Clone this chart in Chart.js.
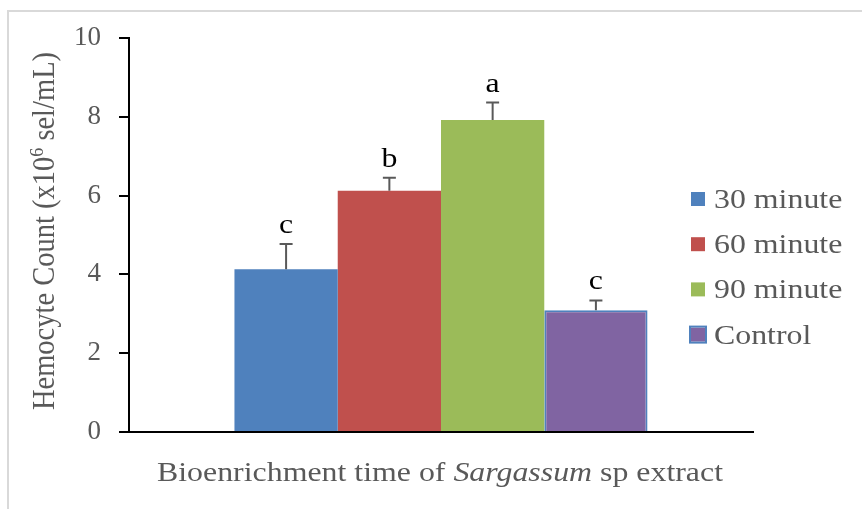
<!DOCTYPE html>
<html>
<head>
<meta charset="utf-8">
<script src="https://cdn.jsdelivr.net/npm/chart.js@4"></script>
<style>
  html, body { margin: 0; padding: 0; background: #fff; overflow: hidden; }
  #wrap { width: 862px; height: 509px; position: relative; }
</style>
</head>
<body>
<div id="wrap"><canvas id="c" width="862" height="509"></canvas></div>
<script>
const categories = [''];
const seriesNames = ['30 minute', '60 minute', '90 minute', 'Control'];
const means = [4.13, 6.12, 7.92, 3.09];
const errors = [0.64, 0.33, 0.44, 0.25];
const letters = ['c', 'b', 'a', 'c'];
const yTicks = [0, 2, 4, 6, 8, 10];

const fills = ['#4F81BD', '#C0504D', '#9BBB59', '#8064A2'];
const edges = ['#4F81BD', '#C0504D', '#9BBB59', '#4F81BD'];
const serif = '"Liberation Serif", "Times New Roman", serif';
const grey = '#595959';
const stretch = 1.18;

// draws a row of text pieces, with a horizontal squeeze like the source image
function pieces(ctx, parts, x, y, sx, sy, centred) {
  ctx.save();
  ctx.translate(x, y);
  ctx.scale(sx, sy);
  let w = 0;
  parts.forEach(p => { ctx.font = p.font; w += ctx.measureText(p.t).width; });
  let cx = centred ? -w / 2 : 0;
  parts.forEach(p => {
    ctx.font = p.font;
    ctx.fillText(p.t, cx, p.dy || 0);
    cx += ctx.measureText(p.t).width;
  });
  ctx.restore();
}

const extras = {
  id: 'extras',
  beforeDraw(chart) {
    const ctx = chart.ctx;
    ctx.save();
    ctx.strokeStyle = '#d9d9d9';
    ctx.lineWidth = 2;
    ctx.beginPath();
    ctx.moveTo(8, 530); ctx.lineTo(8, 11); ctx.lineTo(880, 11);
    ctx.stroke();
    ctx.restore();
  },
  afterDatasetsDraw(chart) {
    const ctx = chart.ctx;
    const y = chart.scales.y;
    ctx.save();
    means.forEach((m, i) => {
      const bar = chart.getDatasetMeta(i).data[0];
      const top = y.getPixelForValue(m);
      const end = y.getPixelForValue(m + errors[i]);
      ctx.strokeStyle = grey;
      ctx.lineWidth = 2;
      ctx.beginPath();
      ctx.moveTo(bar.x, top); ctx.lineTo(bar.x, end);
      ctx.moveTo(bar.x - 6.5, end); ctx.lineTo(bar.x + 6.5, end);
      ctx.stroke();
      ctx.fillStyle = '#000';
      ctx.textAlign = 'left';
      ctx.textBaseline = 'alphabetic';
      pieces(ctx, [{ t: letters[i], font: '27px ' + serif }], bar.x, end - 11, stretch, 1, true);
    });
    ctx.restore();
  },
  afterDraw(chart) {
    const ctx = chart.ctx;
    ctx.save();
    ctx.fillStyle = grey;
    ctx.textAlign = 'left';
    ctx.textBaseline = 'alphabetic';

    // x axis title, species name in italics
    const f = '27px ' + serif;
    const fi = 'italic 27px ' + serif;
    pieces(ctx, [
      { t: 'Bioenrichment time of ', font: f },
      { t: 'Sargassum', font: fi },
      { t: ' sp extract', font: f }
    ], 440, 481, stretch, 1, true);

    // y axis title, rotated, with superscript 6
    ctx.save();
    ctx.translate(54, 231);
    ctx.rotate(-Math.PI / 2);
    pieces(ctx, [
      { t: 'Hemocyte Count (x10', font: '28.5px ' + serif },
      { t: '6', font: '18px ' + serif, dy: -10 },
      { t: ' sel/mL)', font: '28.5px ' + serif }
    ], 0, 0, 1, 1.1, true);
    ctx.restore();

    // legend
    seriesNames.forEach((name, i) => {
      const cy = 199 + i * 45.2;
      ctx.fillStyle = fills[i];
      ctx.fillRect(691, cy - 7, 14, 14);
      if (i === 3) {
        ctx.strokeStyle = edges[i];
        ctx.lineWidth = 2;
        ctx.strokeRect(690, cy - 8, 16, 16);
      }
      ctx.fillStyle = grey;
      pieces(ctx, [{ t: name, font: '27px ' + serif }], 714, cy + 9, stretch, 1, false);
    });
    ctx.restore();
  }
};

new Chart(document.getElementById('c'), {
  type: 'bar',
  data: {
    labels: categories,
    datasets: seriesNames.map((name, i) => ({
      label: name,
      data: [means[i]],
      backgroundColor: fills[i],
      borderColor: edges[i],
      borderWidth: i === 3 ? 2 : 0
    }))
  },
  options: {
    responsive: false,
    animation: false,
    events: [],
    layout: { padding: { top: 38, right: 109, bottom: 77, left: 0 } },
    datasets: { bar: { categoryPercentage: 0.662, barPercentage: 1 } },
    plugins: { legend: { display: false }, tooltip: { enabled: false } },
    scales: {
      x: {
        grid: { display: false },
        border: { display: true, color: '#000', width: 2 },
        ticks: { display: false },
        afterFit: (s) => { s.height = 0; }
      },
      y: {
        min: 0,
        max: 10,
        afterBuildTicks: (s) => { s.ticks = yTicks.map(v => ({ value: v })); },
        grid: { display: true, drawOnChartArea: false, drawTicks: true, tickLength: 10, color: '#000', lineWidth: 2 },
        border: { display: true, color: '#000', width: 2 },
        ticks: { color: grey, font: { family: serif, size: 27 }, padding: 18 },
        afterFit: (s) => { s.width = 129; }
      }
    }
  },
  plugins: [extras]
});
</script>
</body>
</html>
